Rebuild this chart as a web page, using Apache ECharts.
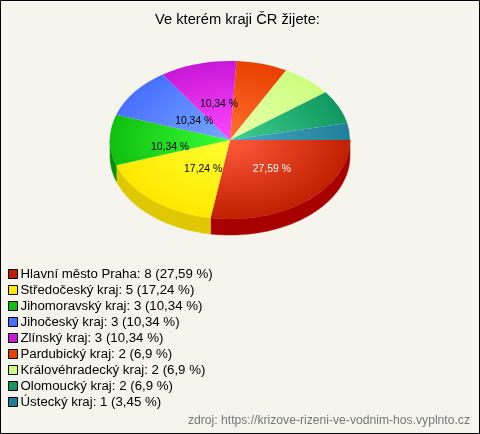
<!DOCTYPE html>
<html><head><meta charset="utf-8">
<style>html,body{margin:0;padding:0;background:#f5f5ed}#c{width:480px;height:434px}</style>
<script src="https://cdn.jsdelivr.net/npm/echarts@6/dist/echarts.min.js"></script>
</head><body><div id="c"></div>
<script>
const categories = ['Hlavní město Praha','Středočeský kraj','Jihomoravský kraj','Jihočeský kraj','Zlínský kraj','Pardubický kraj','Královéhradecký kraj','Olomoucký kraj','Ústecký kraj'];
const counts = [8,5,3,3,3,2,2,2,1];
const percentLabels = ['27,59','17,24','10,34','10,34','10,34','6,9','6,9','6,9','3,45'];
const legendColors = ['#c02000','#ffe800','#10c010','#4870ff','#c818d8','#e84000','#ccff80','#109860','#207f98'];
const innerColors = ['#ff5a3c','#ffff30','#38ff38','#78a8ff','#ff48ff','#ff7030','#e8ffa8','#40d090','#48a8c8'];
const wallColors = ['#a80000','#e0c800','#089008','','','','','',''];

const CX=230, CY=140, RX=120, RY=79, DEPTH=16, FS='"Liberation Sans", Arial, sans-serif';
const total = counts.reduce((a,b)=>a+b,0);
const starts=[]; counts.reduce((a,v,i)=>{starts[i]=a;return a+v;},0);
const toAngle=v=>v/total*Math.PI*2;
const labelNudge=[[3,-1],[12,-1],[0,7],[12,5],[5,3]];

function sliceSeries(i){
  return {
    type:'custom', name:categories[i]+': '+counts[i]+' ('+percentLabels[i]+' %)',
    coordinateSystem:'none', silent:true, z:3,
    itemStyle:{color:legendColors[i]},
    data:[[counts[i]]],
    renderItem:(p,api)=>({
      type:'group', x:CX, y:CY, scaleY:RY/RX,
      children:[{type:'sector',
        shape:{cx:0,cy:0,r:RX,r0:0,startAngle:toAngle(starts[i]),endAngle:toAngle(starts[i]+api.value(0)),clockwise:true},
        style:{fill:{type:'radial',x:0,y:0,r:RX,global:true,colorStops:[{offset:0,color:innerColors[i]},{offset:1,color:legendColors[i]}]}}
      }]
    })
  };
}
const wallSeries={
  type:'custom', coordinateSystem:'none', silent:true, z:2,
  data:counts.map((v,i)=>[i,v]),
  renderItem:(p,api)=>{
    const i=api.value(0), a0=toAngle(starts[i]), a1=Math.min(Math.PI,toAngle(starts[i]+api.value(1)));
    if(a0>=Math.PI) return null;
    const top=[],bot=[];
    for(let k=0;k<=40;k++){const a=a0+(a1-a0)*k/40,x=CX+RX*Math.cos(a),y=CY+RY*Math.sin(a);top.push([x,y]);bot.unshift([x,y+DEPTH]);}
    return {type:'polygon',shape:{points:top.concat(bot)},style:{fill:wallColors[i],stroke:wallColors[i],lineWidth:0.5}};
  }
};
const labelSeries={
  type:'custom', coordinateSystem:'none', silent:true, z:5,
  data:counts.map((v,i)=>[i,v]),
  renderItem:(p,api)=>{
    const i=api.value(0), v=api.value(1);
    if(!labelNudge[i]) return null;
    const m=toAngle(starts[i]+v/2);
    return {type:'text',x:CX+RX*.5*Math.cos(m)+labelNudge[i][0],y:CY+80*.5*Math.sin(m)+labelNudge[i][1],
      style:{text:percentLabels[i]+' %',fill:i===0?'#ffffff':'#000000',font:'10.4px '+FS,align:'center',verticalAlign:'middle'}};
  }
};
const chart=echarts.init(document.getElementById('c'),null,{renderer:'canvas'});
chart.setOption({
  animation:false, backgroundColor:'#f5f5ed',
  title:[{text:'Ve kterém kraji ČR žijete:',left:155,top:12,padding:0,textStyle:{fontFamily:FS,fontSize:14.7,fontWeight:'normal',color:'#000'}},
         {text:'zdroj: https://krizove-rizeni-ve-vodnim-hos.vyplnto.cz',right:10,top:415,padding:0,textStyle:{fontFamily:FS,fontSize:12.15,fontWeight:'normal',color:'#777'}}],
  legend:{orient:'vertical',left:8,top:267,itemWidth:9,itemHeight:9,itemGap:2,padding:0,icon:'rect',
    selectedMode:false,itemStyle:{borderColor:'#000',borderWidth:1},
    textStyle:{fontFamily:FS,fontSize:13.25,color:'#000',padding:[0,0,0,-2],lineHeight:14,height:14},
    data:categories.map((c,i)=>c+': '+counts[i]+' ('+percentLabels[i]+' %)')},
  graphic:[{type:'rect',shape:{x:0.5,y:0.5,width:479,height:433},style:{fill:'none',stroke:'#000',lineWidth:1},z:100,silent:true}],
  series:[wallSeries,...categories.map((c,i)=>sliceSeries(i)),labelSeries]
});
</script></body></html>
